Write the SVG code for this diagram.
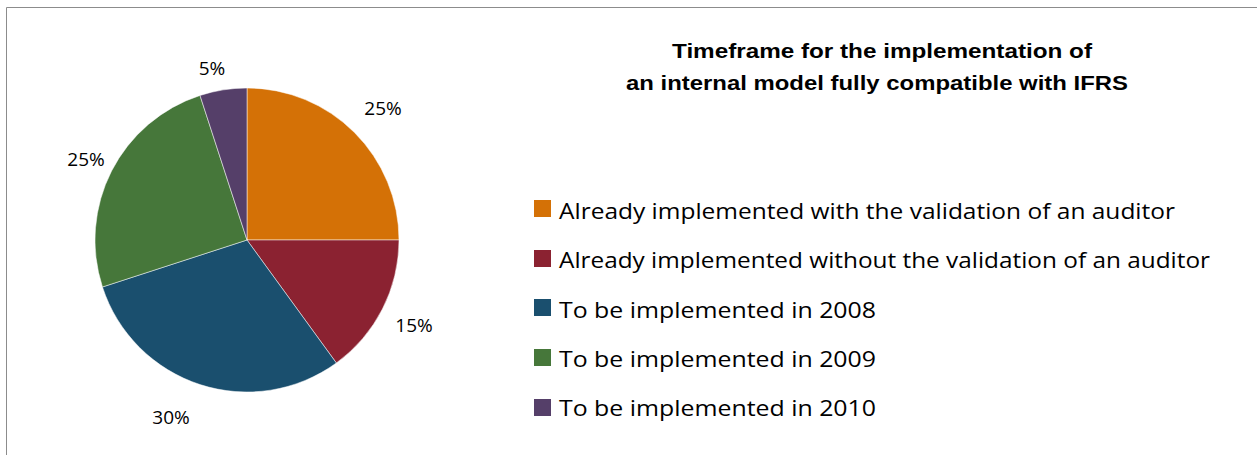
<svg xmlns="http://www.w3.org/2000/svg" width="1257" height="455" viewBox="0 0 1257 455">
<style>
.lbl{font-family:"Open Sans","Liberation Sans",sans-serif;font-size:19px;fill:#000;text-anchor:middle}
.leg{font-family:"Open Sans","Liberation Sans",sans-serif;font-size:22px;fill:#000}
.ttl{font-family:"Liberation Sans",Arial,sans-serif;font-size:21px;font-weight:bold;fill:#000}
.sl{stroke:#ffffff;stroke-width:0.5}
</style>
<rect x="0" y="0" width="1257" height="455" fill="#fff"/>
<path d="M6.5 460 V7.5 H1262" fill="none" stroke="#8c8c8c" stroke-width="1"/>
<g id="title">
<text class="ttl" x="672" y="58" textLength="420" lengthAdjust="spacingAndGlyphs">Timeframe for the implementation of</text>
<text class="ttl" x="626" y="90" textLength="502" lengthAdjust="spacingAndGlyphs">an internal model fully compatible with IFRS</text>
</g>
<g id="pie">
<g id="slice-2007-auditor"><path class="sl" d="M247 240 L247 88 A152 152 0 0 1 399 240 Z" fill="#D47106"/></g>
<g id="slice-2007-no-auditor"><path class="sl" d="M247 240 L399 240 A152 152 0 0 1 336.35 362.97 Z" fill="#8B2231"/></g>
<g id="slice-2008"><path class="sl" d="M247 240 L336.35 362.97 A152 152 0 0 1 102.44 286.97 Z" fill="#1A4F6E"/></g>
<g id="slice-2009"><path class="sl" d="M247 240 L102.44 286.97 A152 152 0 0 1 200.03 95.44 Z" fill="#46773A"/></g>
<g id="slice-2010"><path class="sl" d="M247 240 L200.03 95.44 A152 152 0 0 1 247 88 Z" fill="#553F69"/></g>
</g>
<g id="labels">
<text class="lbl" x="383" y="115">25%</text>
<text class="lbl" x="414" y="332">15%</text>
<text class="lbl" x="171" y="424">30%</text>
<text class="lbl" x="86" y="166">25%</text>
<text class="lbl" x="212" y="75">5%</text>
</g>
<g id="legend">
<g id="legend-1"><rect x="534" y="200" width="17" height="17" fill="#D47106"/><text class="leg" x="559" y="219" textLength="616" lengthAdjust="spacingAndGlyphs">Already implemented with the validation of an auditor</text></g>
<g id="legend-2"><rect x="534" y="250" width="17" height="17" fill="#8B2231"/><text class="leg" x="559" y="268" textLength="651" lengthAdjust="spacingAndGlyphs">Already implemented without the validation of an auditor</text></g>
<g id="legend-3"><rect x="534" y="299" width="17" height="17" fill="#1A4F6E"/><text class="leg" x="559" y="318" textLength="317" lengthAdjust="spacingAndGlyphs">To be implemented in 2008</text></g>
<g id="legend-4"><rect x="534" y="349" width="17" height="17" fill="#46773A"/><text class="leg" x="559" y="367" textLength="317" lengthAdjust="spacingAndGlyphs">To be implemented in 2009</text></g>
<g id="legend-5"><rect x="534" y="399" width="17" height="17" fill="#553F69"/><text class="leg" x="559" y="416" textLength="317" lengthAdjust="spacingAndGlyphs">To be implemented in 2010</text></g>
</g>
</svg>
